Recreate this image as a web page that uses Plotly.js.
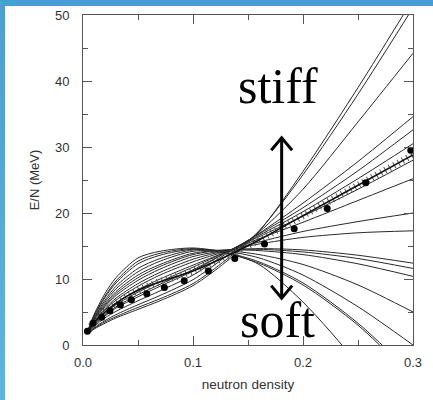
<!DOCTYPE html>
<html>
<head>
<meta charset="utf-8">
<script src="https://cdn.plot.ly/plotly-3.0.1.min.js"></script>
<style>
  html, body { margin: 0; padding: 0; }
  body {
    width: 433px; height: 400px; overflow: hidden;
    background: linear-gradient(to bottom, #46a0d2, #5bb6e0);
    position: relative;
  }
  #chart {
    position: absolute; left: 5px; top: 6px;
    width: 428px; height: 394px; background: #ffffff;
  }
</style>
</head>
<body>
<div id="chart"></div>
<script>
// Neutron-matter energy per neutron (MeV) against neutron density (fm^-3)
// for a family of Skyrme parametrisations, read on a common density grid.
const density = [0.005, 0.01, 0.02, 0.03, 0.05, 0.07, 0.10, 0.13, 0.16, 0.20, 0.25, 0.30];

const skA = [1.8, 2.4, 3.3, 4.1, 5.4, 6.7, 9.0, 12.6, 17.2, 26.3, 39.0, 52.4];
const skB = [1.9, 2.5, 3.5, 4.3, 5.7, 7.0, 9.3, 12.9, 17.3, 25.8, 38.0, 51.1];
const skC = [1.9, 2.6, 3.7, 4.6, 6.1, 7.5, 9.9, 13.4, 17.1, 23.6, 33.8, 44.2];
const skD = [2.0, 2.8, 4.1, 5.1, 6.7, 8.2, 10.6, 13.8, 16.9, 21.5, 27.8, 34.6];
const skE = [2.0, 3.0, 4.4, 5.6, 7.3, 8.9, 11.2, 14.0, 16.8, 20.8, 26.4, 32.6];
const skF = [2.0, 3.1, 4.6, 5.8, 7.6, 9.2, 11.4, 14.0, 16.6, 20.2, 25.2, 30.5];
const skG = [2.1, 3.2, 4.8, 6.1, 8.0, 9.6, 11.8, 14.1, 16.4, 19.5, 23.6, 28.0];
const skH = [2.1, 3.3, 5.0, 6.4, 8.4, 10.0, 12.1, 14.1, 16.1, 18.6, 21.9, 25.2];
const skI = [2.1, 3.4, 5.3, 6.8, 8.9, 10.6, 12.6, 14.2, 15.6, 17.2, 18.7, 20.0];
const skJ = [2.2, 3.5, 5.5, 7.1, 9.3, 11.0, 13.0, 14.3, 15.3, 16.3, 17.0, 17.3];
const skK = [2.2, 3.7, 5.8, 7.5, 9.8, 11.5, 13.4, 14.3, 14.6, 14.4, 13.6, 12.4];
const skL = [2.2, 3.8, 6.0, 7.8, 10.2, 11.9, 13.7, 14.4, 14.5, 14.1, 13.1, 11.6];
const skM = [2.3, 3.9, 6.2, 8.1, 10.6, 12.2, 13.9, 14.4, 14.3, 13.7, 12.3, 10.4];
const skN = [2.3, 4.0, 6.5, 8.5, 11.1, 12.7, 14.2, 14.3, 13.7, 12.2, 9.1, 5.0];
const skO = [2.3, 4.1, 6.8, 8.9, 11.6, 13.1, 14.4, 14.2, 13.2, 10.6, 5.8, 0.0];
const skP = [2.4, 4.3, 7.2, 9.4, 12.3, 13.6, 14.5, 14.0, 12.6, 9.4, 3.3, -4.5];
const skQ = [2.4, 4.4, 7.4, 9.7, 12.7, 13.9, 14.6, 13.9, 12.4, 9.1, 3.0, -5.0];
const skR = [2.5, 4.6, 7.8, 10.2, 13.2, 14.2, 14.7, 14.0, 12.2, 6.5, -2.9, -14.0];

const skyrmeCurves = [skA, skB, skC, skD, skE, skF, skG, skH, skI,
                      skJ, skK, skL, skM, skN, skO, skP, skQ, skR];

// Hatched reference band
const bandDensity = [0.005, 0.01, 0.02, 0.03, 0.04, 0.06, 0.08, 0.10, 0.13, 0.16, 0.20, 0.25, 0.30];
const bandEnergy  = [2.2, 3.4, 5.0, 6.3, 7.4, 9.0, 10.1, 11.2, 13.4, 15.9, 19.6, 24.2, 28.8];

// Microscopic neutron-matter points
const fpDensity = [0.004, 0.009, 0.017, 0.0245, 0.034, 0.044, 0.058, 0.074, 0.092, 0.114, 0.138, 0.165, 0.192, 0.222, 0.257, 0.298];
const fpEnergy  = [2.1, 3.3, 4.2, 5.2, 6.05, 6.85, 7.75, 8.7, 9.75, 11.2, 13.1, 15.3, 17.6, 20.7, 24.6, 29.5];

// Axis ticks
const xTickVals = [0.0, 0.1, 0.2, 0.3];
const xTickText = ['0.0', '0.1', '0.2', '0.3'];
const yTickVals = [0, 10, 20, 30, 40, 50];

const traces = skyrmeCurves.map(e => ({
  x: density, y: e, type: 'scatter', mode: 'lines',
  line: { color: '#2a2a2a', width: 1, shape: 'spline', smoothing: 0.8 },
  hoverinfo: 'skip', showlegend: false
}));

// band: a thick dashed stroke gives the cross hatching, thin line on top
traces.push({
  x: bandDensity, y: bandEnergy, type: 'scatter', mode: 'lines',
  line: { color: '#555', width: 7, dash: '1px,4px', shape: 'spline' },
  hoverinfo: 'skip', showlegend: false
});
traces.push({
  x: bandDensity, y: bandEnergy, type: 'scatter', mode: 'lines',
  line: { color: '#111', width: 1.6, shape: 'spline' },
  hoverinfo: 'skip', showlegend: false
});
traces.push({
  x: fpDensity, y: fpEnergy, type: 'scatter', mode: 'markers',
  marker: { color: '#000', size: 7 },
  hoverinfo: 'skip', showlegend: false
});

// stiff/soft double-headed arrow (data coordinates)
const arrowX = 0.1806, arrowTop = 31.4, arrowBottom = 7.1;
const headW = 0.0095, headH = 1.9;

const serif = 'Liberation Serif, Times New Roman, serif';

const layout = {
  width: 428, height: 394,
  margin: { l: 78, r: 20, t: 9, b: 55 },
  paper_bgcolor: '#ffffff', plot_bgcolor: '#ffffff',
  font: { family: 'Liberation Sans, Arial, sans-serif', color: '#333', size: 13 },
  xaxis: {
    range: [0, 0.3], tickvals: xTickVals, ticktext: xTickText,
    ticks: 'inside', ticklen: 9, tickcolor: '#555', tickwidth: 1,
    ticklabelstandoff: 5,
    minor: { ticks: 'inside', ticklen: 5, dtick: 0.05, tickcolor: '#555' },
    showline: true, linecolor: '#555', linewidth: 1, mirror: 'ticks',
    showgrid: false, zeroline: false,
    title: { text: 'neutron density', font: { size: 13.5, color: '#333' }, standoff: 10 }
  },
  yaxis: {
    range: [0, 50], tickvals: yTickVals,
    ticks: 'inside', ticklen: 9, tickcolor: '#555', tickwidth: 1,
    ticklabelstandoff: 10,
    minor: { ticks: 'inside', ticklen: 5, dtick: 5, tickcolor: '#555' },
    showline: true, linecolor: '#555', linewidth: 1, mirror: 'ticks',
    showgrid: false, zeroline: false,
    title: { text: 'E/N (MeV)', font: { size: 13, color: '#333' }, standoff: 12 }
  },
  shapes: [
    { type: 'line', xref: 'x', yref: 'y', x0: arrowX, x1: arrowX, y0: arrowBottom, y1: arrowTop,
      line: { color: '#000', width: 3 } },
    { type: 'path', xref: 'x', yref: 'y',
      path: `M ${arrowX - headW},${arrowTop - headH} L ${arrowX},${arrowTop} L ${arrowX + headW},${arrowTop - headH}`,
      line: { color: '#000', width: 3 } },
    { type: 'path', xref: 'x', yref: 'y',
      path: `M ${arrowX - headW},${arrowBottom + headH} L ${arrowX},${arrowBottom} L ${arrowX + headW},${arrowBottom + headH}`,
      line: { color: '#000', width: 3 } }
  ],
  annotations: [
    { text: 'stiff', xref: 'x', yref: 'y', x: 0.177, y: 39.2, showarrow: false,
      font: { family: serif, size: 50, color: '#000' } },
    { text: 'soft', xref: 'x', yref: 'y', x: 0.177, y: 3.8, showarrow: false,
      font: { family: serif, size: 50, color: '#000' } }
  ]
};

Plotly.newPlot('chart', traces, layout, { displayModeBar: false, staticPlot: true });
</script>
</body>
</html>
